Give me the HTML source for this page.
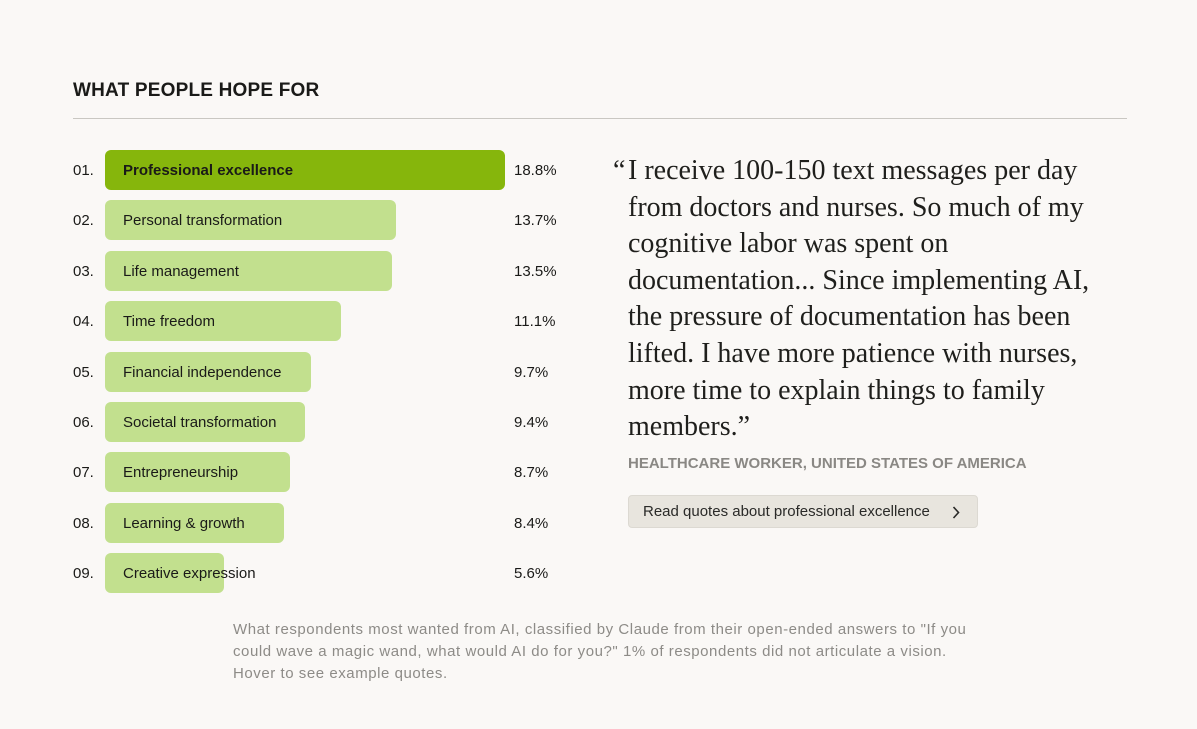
<!DOCTYPE html>
<html><head><meta charset="utf-8"><style>
body{margin:0;width:1197px;height:729px;background:#faf8f6;font-family:"Liberation Sans",sans-serif;position:relative;overflow:hidden;color:#1a1a18}
.title{position:absolute;left:73px;top:80px;font-size:19px;font-weight:bold;letter-spacing:.2px}
.rule{position:absolute;left:73px;top:118px;width:1054px;height:1px;background:#c9c7c2}
.row{position:absolute;left:0;height:40px}
.num{position:absolute;left:73px;top:1px;font-size:15px;line-height:40px}
.bar{position:absolute;left:105px;height:40px;border-radius:6px;background:#c2e08e}
.bar.top{background:#86b60c}
.lab{position:absolute;left:123px;top:1px;font-size:15px;line-height:40px;white-space:nowrap}
.pct{position:absolute;left:514px;top:1px;font-size:15px;line-height:40px}
.quote{position:absolute;left:628px;top:153px;width:480px;font-family:"Liberation Serif",serif;font-size:28px;line-height:36.6px;color:#1f1f1c}
.quote .oq{position:absolute;left:-15px}
.who{position:absolute;left:628px;top:455px;font-size:15px;font-weight:bold;color:#8a8884}
.btn{position:absolute;left:628px;top:495px;width:350px;height:33px;border:1px solid #dcd9d2;border-radius:4px;background:#e8e5de;font-size:15px;line-height:31px;box-sizing:border-box;padding-left:14px;color:#2a2a28}
.btn svg{position:absolute;left:323px;top:10px}
.cap{position:absolute;left:233px;top:619px;width:800px;font-size:15px;letter-spacing:0.55px;line-height:22px;color:#8d8b87;white-space:nowrap}
</style></head><body>
<div class="title">WHAT PEOPLE HOPE FOR</div>
<div class="rule"></div>
<div id="chart"></div>
<div class="quote"><span class="oq">“</span>I receive 100-150 text messages per day from doctors and nurses. So much of my cognitive labor was spent on documentation... Since implementing AI, the pressure of documentation has been lifted. I have more patience with nurses, more time to explain things to family members.”</div>
<div class="who">HEALTHCARE WORKER, UNITED STATES OF AMERICA</div>
<div class="btn">Read quotes about professional excellence<svg width="8" height="13" viewBox="0 0 8 13"><path d="M1.5 1 L6.5 6.5 L1.5 12" fill="none" stroke="#2a2a28" stroke-width="1.6"/></svg></div>
<div class="cap">What respondents most wanted from AI, classified by Claude from their open-ended answers to "If you<br>could wave a magic wand, what would AI do for you?" 1% of respondents did not articulate a vision.<br>Hover to see example quotes.</div>
<script>
const categories=["Professional excellence","Personal transformation","Life management","Time freedom","Financial independence","Societal transformation","Entrepreneurship","Learning & growth","Creative expression"];
const values=[18.8,13.7,13.5,11.1,9.7,9.4,8.7,8.4,5.6];
const pctLabels=["18.8%","13.7%","13.5%","11.1%","9.7%","9.4%","8.7%","8.4%","5.6%"];
const x=v=>v*400/18.8;
const y=i=>150+i*50.4;
const c=document.getElementById('chart');
categories.forEach((cat,i)=>{
  const r=document.createElement('div');r.className='row';r.style.top=y(i)+'px';
  
  
  r.innerHTML=`<div class="num">${String(i+1).padStart(2,'0')}.</div><div class="bar${i==0?' top':''}" style="width:${x(values[i])}px"></div><div class="lab" style="${i==0?'font-weight:bold':''}">${cat.replace('&','&amp;')}</div><div class="pct">${pctLabels[i]}</div>`;
  r.querySelector('.bar');
  r.querySelector('.bar');
  c.appendChild(r);
});
</script>
</body></html>
